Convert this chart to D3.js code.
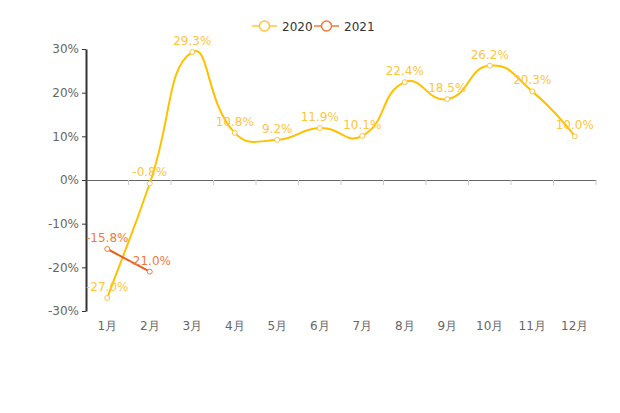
<!DOCTYPE html>
<html><head><meta charset="utf-8">
<script src="https://cdn.jsdelivr.net/npm/d3@7/dist/d3.min.js"></script>
<style>body{margin:0;background:#fff}svg{font-family:"DejaVu Sans",sans-serif}</style>
</head><body><svg id="c" width="620" height="413"></svg>
<script>
const months = ["1月","2月","3月","4月","5月","6月","7月","8月","9月","10月","11月","12月"];
const s2020 = [-27.0,-0.8,29.3,10.8,9.2,11.9,10.1,22.4,18.5,26.2,20.3,10.0];
const s2021 = [-15.8,-21.0];
const yTicks = [-30,-20,-10,0,10,20,30];
const seriesNames = ["2020","2021"];
const lineColors = ["#FFC000","#E8601C"];
const labelColors = ["#FFC53D","#F07A3A"];

const FONT = "DejaVu Sans";
const svg = d3.select("#c");
const x = d3.scaleBand().domain(months).range([86,596]);
const y = d3.scaleLinear().domain([-30,30]).range([311,49]);

// y axis
const ya = svg.append("g").attr("transform","translate(86,0)")
  .call(d3.axisLeft(y).tickValues(yTicks).tickFormat(d=>d+"%").tickSize(4).tickSizeOuter(0).tickPadding(3));
ya.attr("font-family",FONT);
ya.select(".domain").attr("stroke","#333").attr("stroke-width",2);
ya.selectAll(".tick line").attr("stroke","#333");
ya.selectAll("text").attr("fill","#666").attr("font-size",12);

// zero line
const xa = svg.append("g").attr("transform",`translate(0,${y(0)})`)
  .call(d3.axisBottom(x).tickSize(0).tickSizeOuter(0).tickFormat(""));
xa.select(".domain").attr("stroke","#666").attr("stroke-width",1);
xa.selectAll(".tick").remove();
const bounds = months.map(m=>x(m)).concat([x.range()[1]]);
xa.selectAll("line.b").data(bounds.slice(1)).enter().append("line")
  .attr("x1",d=>d).attr("x2",d=>d).attr("y1",0).attr("y2",5).attr("stroke","#ccc");
// x labels at bottom
svg.append("g").selectAll("text").data(months).enter().append("text")
  .attr("x",d=>x(d)+x.bandwidth()/2).attr("y",330).attr("text-anchor","middle")
  .attr("fill","#666").attr("font-size",12).text(d=>d);

const cx = (d,i)=>x(months[i])+x.bandwidth()/2;

// ECharts-style smooth path (smooth = 0.5)
function smoothPath(vals){
  const pts = vals.map((d,i)=>[cx(d,i), y(d)]);
  const sm = 0.5;
  const p = d3.path();
  let prev = pts[0], cp0 = pts[0];
  for(let k=0;k<pts.length;k++){
    const cur = pts[k];
    const nxt = pts[k+1];
    let vx=0, vy=0, ratio=0.5, cp1=cur;
    if(nxt){
      vx = nxt[0]-prev[0]; vy = nxt[1]-prev[1];
      const l0 = Math.hypot(cur[0]-prev[0], cur[1]-prev[1]);
      const l1 = Math.hypot(nxt[0]-cur[0], nxt[1]-cur[1]);
      ratio = (l0+l1)>0 ? l1/(l0+l1) : 0.5;
      cp1 = [cur[0]-vx*sm*(1-ratio), cur[1]-vy*sm*(1-ratio)];
    }
    if(k===0) p.moveTo(cur[0],cur[1]);
    else p.bezierCurveTo(cp0[0],cp0[1],cp1[0],cp1[1],cur[0],cur[1]);
    cp0 = [cur[0]+vx*sm*ratio, cur[1]+vy*sm*ratio];
    prev = cur;
  }
  return p.toString();
}

[s2020,s2021].forEach((s,k)=>{
  const g = svg.append("g");
  g.append("path").attr("d",smoothPath(s)).attr("fill","none").attr("stroke",lineColors[k]).attr("stroke-width",2);
  g.selectAll("circle").data(s).enter().append("circle")
    .attr("cx",cx).attr("cy",d=>y(d)).attr("r",2.5).attr("fill","#fff").attr("stroke",labelColors[k]).attr("stroke-width",1);
});
[s2020,s2021].forEach((s,k)=>{
  svg.append("g").selectAll("text").data(s).enter().append("text")
    .attr("x",cx).attr("y",d=>y(d)-7).attr("text-anchor","middle")
    .attr("fill",labelColors[k]).attr("font-size",12).text(d=>d.toFixed(1)+"%");
});

// legend
const lg = svg.append("g");
const lx = [252, 314];
seriesNames.forEach((n,k)=>{
  const g = lg.append("g").attr("transform",`translate(${lx[k]},26)`);
  g.append("line").attr("x1",0).attr("x2",25).attr("stroke",labelColors[k]).attr("stroke-width",1.5);
  g.append("circle").attr("cx",12.5).attr("r",5).attr("fill","#fff").attr("stroke",labelColors[k]).attr("stroke-width",1.5);
  g.append("text").attr("x",30).attr("y",4.5).attr("font-size",12).attr("fill","#333").text(n);
});
</script></body></html>
